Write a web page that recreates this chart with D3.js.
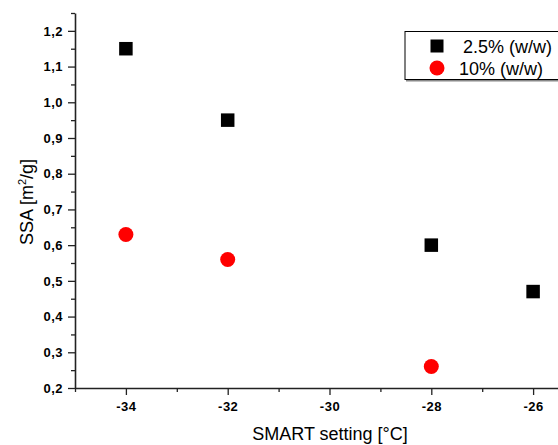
<!DOCTYPE html>
<html>
<head>
<meta charset="utf-8">
<script src="https://cdn.jsdelivr.net/npm/d3@7"></script>
<style>
  html, body { margin: 0; padding: 0; background: #fff; }
  svg { display: block; font-family: "Liberation Sans", Arial, sans-serif; }
</style>
</head>
<body>
<svg id="chart" width="558" height="445"></svg>
<script>
// SMART setting temperatures (°C)
const temps25 = [-34, -32, -28, -26];
const ssa25 = [1.15, 0.95, 0.60, 0.47];
const temps10 = [-34, -32, -28];
const ssa10 = [0.63, 0.56, 0.26];

const xMajorTicks = [-34, -32, -30, -28, -26];
const xMinorTicks = [-35, -33, -31, -29, -27, -25];
const yMajorTicks = [0.2, 0.3, 0.4, 0.5, 0.6, 0.7, 0.8, 0.9, 1.0, 1.1, 1.2];
const yMinorTicks = [0.25, 0.35, 0.45, 0.55, 0.65, 0.75, 0.85, 0.95, 1.05, 1.15, 1.25];

const seriesLabels = ["2.5% (w/w)", "10% (w/w)"];

const svg = d3.select("#chart");
const margin = { left: 75, top: 13, bottom: 388 };
const plotRight = 584;

const x = d3.scaleLinear().domain([-35, -25]).range([margin.left, plotRight]);
const y = d3.scaleLinear().domain([0.2, 1.25]).range([margin.bottom, margin.top]);

const fmtY = d => d3.format(".1f")(d).replace(".", ",");
const fmtX = d => String(d);

// x axis: major + minor ticks
const xAxis = svg.append("g").attr("transform", `translate(0,${margin.bottom})`);
xAxis.call(d3.axisBottom(x).tickValues(xMajorTicks).tickSize(7).tickSizeOuter(0).tickFormat(fmtX));
xAxis.append("g").call(d3.axisBottom(x).tickValues(xMinorTicks).tickSize(4).tickSizeOuter(0).tickFormat(""))
  .select(".domain").remove();

// y axis: major + minor ticks
const yAxis = svg.append("g").attr("transform", `translate(${margin.left},0)`);
yAxis.call(d3.axisLeft(y).tickValues(yMajorTicks).tickSize(7).tickSizeOuter(0).tickFormat(fmtY));
yAxis.append("g").call(d3.axisLeft(y).tickValues(yMinorTicks).tickSize(4).tickSizeOuter(0).tickFormat(""))
  .select(".domain").remove();

svg.selectAll(".domain").attr("stroke", "#222").attr("stroke-width", 1.6);
svg.selectAll(".tick line").attr("stroke", "#222").attr("stroke-width", 1.3);
svg.selectAll(".tick text")
  .attr("fill", "#000")
  .style("font-size", "13px")
  .style("font-weight", "bold")
  .style("letter-spacing", "0.5px")
  .style("font-family", "'Liberation Sans', Arial, sans-serif");
xAxis.selectAll(".tick text").attr("y", 13.5).attr("dy", "0.71em");
yAxis.selectAll(".tick text").attr("dx", "-0.15em");

// axis titles
svg.append("text")
  .attr("x", 330).attr("y", 440)
  .attr("text-anchor", "middle")
  .style("font-size", "18px")
  .text("SMART setting [°C]");

const yTitle = svg.append("text")
  .attr("transform", "translate(33,202) rotate(-90)")
  .attr("text-anchor", "middle")
  .style("font-size", "18px");
yTitle.append("tspan").text("SSA [m");
yTitle.append("tspan").attr("dy", "-7").style("font-size", "11px").text("2");
yTitle.append("tspan").attr("dy", "7").text("/g]");

// series: squares
const sq = 13.5;
svg.append("g").selectAll("rect")
  .data(temps25.map((t, i) => [t, ssa25[i]]))
  .join("rect")
  .attr("x", d => x(d[0]) - sq / 2)
  .attr("y", d => y(d[1]) - sq / 2)
  .attr("width", sq).attr("height", sq)
  .attr("fill", "#000");

// series: circles
svg.append("g").selectAll("circle")
  .data(temps10.map((t, i) => [t, ssa10[i]]))
  .join("circle")
  .attr("cx", d => x(d[0]))
  .attr("cy", d => y(d[1]))
  .attr("r", 7.5)
  .attr("fill", "#ff0000");

// legend
const lg = svg.append("g");
lg.append("rect")
  .attr("x", 406).attr("y", 33).attr("width", 175).attr("height", 48.5)
  .attr("fill", "#888");
lg.append("rect")
  .attr("x", 405).attr("y", 31.5).attr("width", 175).attr("height", 48)
  .attr("fill", "#fff").attr("stroke", "#000").attr("stroke-width", 1);
lg.append("rect")
  .attr("x", 437 - 6.5).attr("y", 46 - 6.5).attr("width", 13).attr("height", 13)
  .attr("fill", "#000");
lg.append("circle")
  .attr("cx", 437).attr("cy", 68).attr("r", 7.5).attr("fill", "#ff0000");
lg.append("text").attr("x", 463).attr("y", 52.5).style("font-size", "18px").text(seriesLabels[0]);
lg.append("text").attr("x", 459).attr("y", 74.5).style("font-size", "18px").text(seriesLabels[1]);
</script>
</body>
</html>
